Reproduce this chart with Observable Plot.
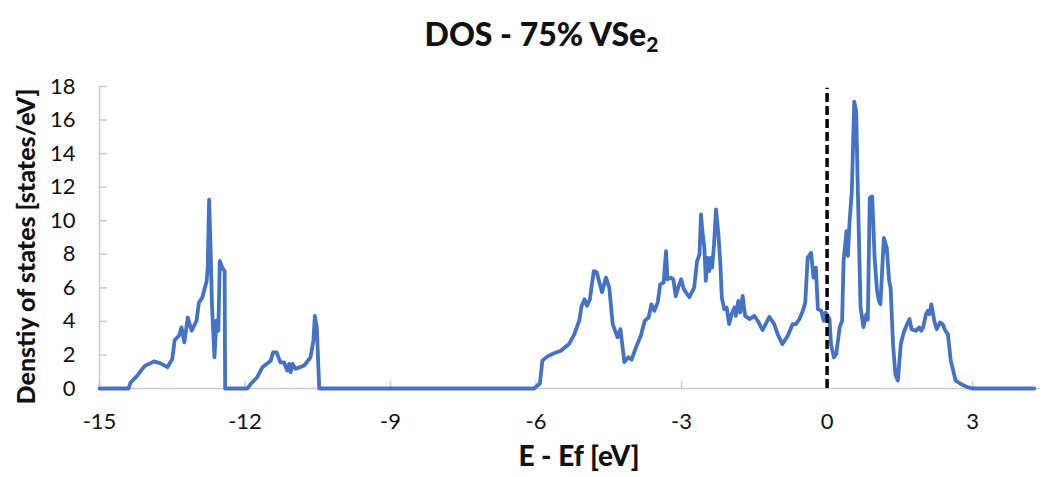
<!DOCTYPE html>
<html>
<head>
<meta charset="utf-8">
<script src="https://cdn.jsdelivr.net/npm/d3@7"></script>
<script src="https://cdn.jsdelivr.net/npm/@observablehq/plot@0.6"></script>
<style>
  html, body { margin: 0; padding: 0; background: #fff; }
  #title { height: 70px; box-sizing: border-box; padding-top: 15px; padding-left: 24px; text-align: center;
    font-family: Lato, "Open Sans", sans-serif; font-weight: 900; font-size: 32px; color: #111; line-height: 38px; }
  #title sub { font-size: 21px; vertical-align: -6px; line-height: 0; }
</style>
</head>
<body>
<div id="title">DOS - 75% VSe<sub>2</sub></div>
<div id="chart"></div>
<script>
// Energy relative to Fermi level (eV)
const energy = [
  -15, -14.40, -14.36, -14.22, -14.09, -14.05, -13.95, -13.88, -13.74, -13.60, -13.50, -13.45, -13.36, -13.31, -13.25,
  -13.18, -13.10, -13.00, -12.95, -12.88, -12.79, -12.77, -12.74, -12.71, -12.68, -12.63, -12.59, -12.55, -12.52, -12.47,
  -12.42, -12.41,
  -11.95, -11.88, -11.75, -11.64, -11.47, -11.42, -11.35, -11.27, -11.20, -11.13, -11.09, -11.06, -11.02, -10.96, -10.78,
  -10.65, -10.59, -10.56, -10.52, -10.47,
  -6.04, -5.92, -5.87, -5.77, -5.63, -5.49, -5.32, -5.21, -5.11, -5.06, -5.00, -4.95, -4.89, -4.81, -4.75, -4.64, -4.56,
  -4.49, -4.42, -4.32, -4.26, -4.18, -4.10, -4.03, -3.94, -3.84, -3.76, -3.68, -3.62, -3.56, -3.49, -3.44, -3.37, -3.32,
  -3.29, -3.22, -3.17, -3.12, -3.07, -3.01, -2.95, -2.84, -2.74, -2.68, -2.63, -2.60, -2.57, -2.53, -2.50, -2.46, -2.43,
  -2.40, -2.37, -2.33, -2.29, -2.24, -2.20, -2.17, -2.12, -2.07, -2.02, -1.97, -1.91, -1.88, -1.83, -1.79, -1.74, -1.69,
  -1.60, -1.50, -1.43, -1.33, -1.19, -1.09, -1.02, -0.92, -0.81, -0.71, -0.64, -0.57, -0.50, -0.45, -0.40, -0.33, -0.28,
  -0.23, -0.19, -0.12, -0.07, -0.03, 0.05, 0.08, 0.14, 0.19, 0.26, 0.31, 0.34, 0.40, 0.43, 0.46, 0.51, 0.56, 0.60, 0.63,
  0.69, 0.75, 0.81, 0.84, 0.88, 0.93, 0.98, 1.03, 1.07, 1.10, 1.17, 1.23, 1.28, 1.31, 1.36, 1.41, 1.46, 1.52, 1.58, 1.65,
  1.70, 1.74, 1.83, 1.90, 1.94, 1.98, 2.04, 2.08, 2.11, 2.15, 2.21, 2.26, 2.33, 2.38, 2.44, 2.49, 2.55, 2.65, 2.75, 2.89,
  3.00, 4.27
];
// Density of states (states/eV)
const dos = [
  0, 0, 0.36, 0.77, 1.27, 1.37, 1.50, 1.62, 1.50, 1.27, 1.76, 2.89, 3.15, 3.64, 2.75,
  4.23, 3.44, 4.04, 5.12, 5.42, 6.41, 7.20, 11.26, 8.39, 4.83, 1.86, 4.04, 3.44, 7.60, 7.20,
  7.00, 0,
  0, 0.28, 0.67, 1.27, 1.66, 2.15, 2.15, 1.56, 1.56, 1.07, 1.47, 0.97, 1.47, 1.17, 1.37,
  1.86, 2.85, 4.33, 3.64, 0,
  0, 0.30, 1.66, 1.90, 2.10, 2.25, 2.65, 3.24, 4.04, 4.93, 5.32, 4.93, 5.32, 7.00, 6.93, 5.74, 6.61,
  6.01, 3.84, 3.05, 3.54, 1.58, 1.86, 1.72, 2.45, 3.15, 4.04, 4.23, 5.02, 4.63, 5.15, 6.21, 6.32, 8.19,
  6.50, 6.61, 6.50, 5.50, 6.01, 6.51, 5.90, 5.44, 6.01, 7.60, 7.99, 10.37, 9.38, 8.39, 6.41, 7.79, 7.00,
  7.79, 7.20, 8.59, 10.67, 9.18, 7.40, 5.42, 4.73, 4.83, 3.84, 4.43, 4.83, 4.33, 5.22, 4.53, 5.52, 4.33,
  4.14, 4.33, 4.04, 3.48, 4.27, 3.84, 3.24, 2.65, 3.15, 3.84, 3.84, 4.14, 4.63, 5.12, 7.79, 8.09, 6.61,
  7.20, 4.73, 4.63, 4.04, 4.53, 4.14, 2.65, 1.86, 2.06, 3.66, 4.04, 7.60, 9.38, 7.90, 9.78, 11.75, 17.10, 16.50, 12.34,
  4.83, 3.66, 4.43, 4.10, 11.36, 11.45, 7.79, 5.82, 5.20, 5.02, 8.98, 8.39, 6.41, 6.00, 2.60, 0.80, 0.48, 2.65, 3.34, 3.84,
  4.14, 3.54, 3.44, 3.64, 3.44, 3.64, 4.43, 4.63, 4.43, 5.02, 4.04, 3.54, 3.94, 3.84, 3.44, 3.24, 1.66, 0.48, 0.28, 0.08,
  0, 0
];
const xTicks = [-15, -12, -9, -6, -3, 0, 3];
const yTicks = [0, 2, 4, 6, 8, 10, 12, 14, 16, 18];
const xDomain = [-15, 4.4];
const yDomain = [0, 18];
const fermiLevel = [{e: 0, top: 17.9}];
const xLabel = "E - Ef [eV]";
const yLabel = "Denstiy of states [states/eV]";

const data = energy.map((e, i) => ({e, d: dos[i]}));

const W = 1059, H = 407, mT = 16, mB = 89, mL = 99, mR = 19;
const plotW = W - mL - mR, plotH = H - mT - mB;
const axisGray = "#C9C9C9";
const textColor = "#111";

const chart = Plot.plot({
  width: W, height: H,
  marginTop: mT, marginBottom: mB, marginLeft: mL, marginRight: mR,
  x: {domain: xDomain},
  y: {domain: yDomain},
  style: {fontFamily: "Lato, 'Open Sans', sans-serif", fontSize: "21px", color: textColor, background: "white", overflow: "visible"},
  marks: [
    Plot.ruleY([yDomain[0]], {stroke: axisGray, strokeWidth: 1.5}),
    Plot.ruleX([xDomain[0]], {stroke: axisGray, strokeWidth: 1.5}),
    Plot.tickY(yTicks, {y: d => d, insetRight: plotW - 8, stroke: axisGray, strokeWidth: 1.5}),
    Plot.tickX(xTicks, {x: d => d, insetTop: plotH - 7, stroke: axisGray, strokeWidth: 1.5}),
    Plot.axisY({ticks: yTicks, tickSize: 0, tickPadding: 24, tickFormat: d => String(d), label: null, fill: textColor, fontSize: 22}),
    Plot.axisX({ticks: xTicks, tickSize: 0, tickPadding: 25, tickFormat: d => String(d), label: null, fill: textColor, fontSize: 22}),
    Plot.line(data, {x: "e", y: "d", stroke: "#4472C4", strokeWidth: 3.8, strokeLinejoin: "round"}),
    Plot.ruleX(fermiLevel, {x: "e", y1: 0, y2: "top", stroke: "black", strokeWidth: 3.5, strokeDasharray: "9,4"}),
    Plot.text([xLabel], {frameAnchor: "bottom", dx: 9, dy: 77, fontWeight: 900, fontSize: 28, fill: textColor}),
    Plot.text([yLabel], {frameAnchor: "left", textAnchor: "middle", rotate: -90, dx: -73, dy: 9, fontWeight: 900, fontSize: 25, fill: textColor})
  ]
});
document.getElementById("chart").appendChild(chart);
</script>
</body>
</html>
